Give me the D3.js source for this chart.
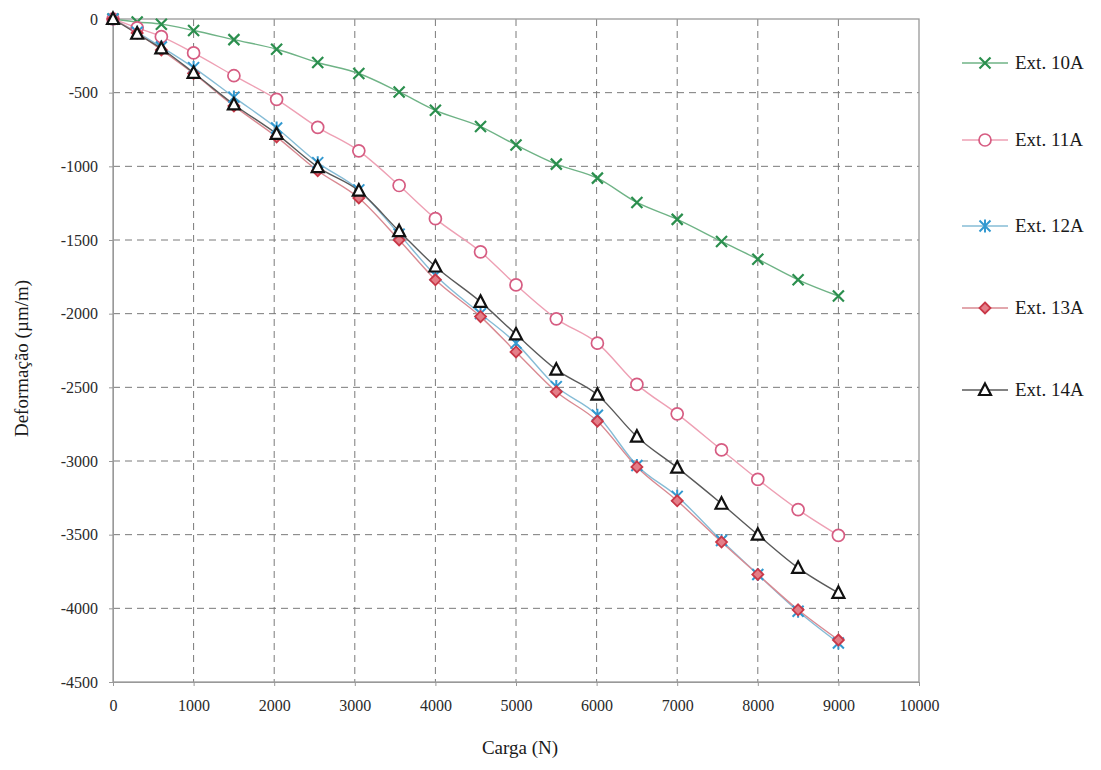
<!DOCTYPE html>
<html>
<head>
<meta charset="utf-8">
<script src="https://cdn.jsdelivr.net/npm/d3@7"></script>
<style>
  body { margin: 0; background: #fff; }
  svg text { font-family: "Liberation Serif", "DejaVu Serif", serif; }
</style>
</head>
<body>
<svg id="chart"></svg>
<script>
// cargas (N)
const cargas = [0, 300, 600, 1000, 1500, 2030, 2540, 3050, 3550, 4000, 4560, 5000, 5500, 6010, 6500, 7000, 7550, 8000, 8500, 9000];

// deformações (µm/m) por extensômetro
const ext10A = [0, -20, -35, -78, -140, -205, -295, -370, -495, -620, -730, -855, -985, -1080, -1245, -1360, -1510, -1630, -1770, -1880];
const ext11A = [0, -60, -120, -230, -385, -545, -735, -895, -1130, -1355, -1580, -1805, -2035, -2200, -2480, -2680, -2925, -3125, -3330, -3505];
const ext12A = [0, -90, -190, -330, -530, -740, -975, -1160, -1460, -1740, -2000, -2200, -2495, -2690, -3030, -3240, -3540, -3770, -4020, -4235];
const ext13A = [0, -95, -210, -370, -590, -800, -1030, -1215, -1500, -1770, -2020, -2260, -2530, -2730, -3040, -3270, -3550, -3770, -4010, -4215];
const ext14A = [0, -100, -200, -365, -580, -780, -1005, -1165, -1440, -1680, -1920, -2140, -2380, -2550, -2835, -3045, -3290, -3500, -3725, -3895];

const nomes = ["Ext. 10A", "Ext. 11A", "Ext. 12A", "Ext. 13A", "Ext. 14A"];
const xTicks = d3.range(0, 10001, 1000);
const yTicks = d3.range(0, -4501, -500);

const series = [
  { nome: nomes[0], valores: ext10A, cor: "#2b8f4e", linha: "#6fb386", marca: "x" },
  { nome: nomes[1], valores: ext11A, cor: "#d65c82", linha: "#eea0b4", marca: "circle" },
  { nome: nomes[2], valores: ext12A, cor: "#3399d0", linha: "#86bcd6", marca: "asterisk" },
  { nome: nomes[3], valores: ext13A, cor: "#c93848", linha: "#d98a92", marca: "diamond" },
  { nome: nomes[4], valores: ext14A, cor: "#111111", linha: "#5a5a5a", marca: "triangle" }
];

const width = 1101, height = 770;
const margin = { left: 113, right: 182, top: 19, bottom: 88 };

const svg = d3.select("#chart").attr("width", width).attr("height", height);

const x = d3.scaleLinear().domain([0, 10000]).range([margin.left, width - margin.right]);
const y = d3.scaleLinear().domain([0, -4500]).range([margin.top, height - margin.bottom]);

// grade tracejada
svg.append("g").selectAll("line")
  .data(xTicks.slice(1, -1))
  .enter().append("line")
  .attr("x1", d => x(d)).attr("x2", d => x(d))
  .attr("y1", y(0)).attr("y2", y(-4500))
  .attr("stroke", "#7a7a7a").attr("stroke-dasharray", "7,5").attr("stroke-width", 1);

svg.append("g").selectAll("line")
  .data(yTicks.slice(1, -1))
  .enter().append("line")
  .attr("y1", d => y(d)).attr("y2", d => y(d))
  .attr("x1", x(0)).attr("x2", x(10000))
  .attr("stroke", "#7a7a7a").attr("stroke-dasharray", "7,5").attr("stroke-width", 1);

// moldura
svg.append("rect")
  .attr("x", x(0)).attr("y", y(0))
  .attr("width", x(10000) - x(0)).attr("height", y(-4500) - y(0))
  .attr("fill", "none").attr("stroke", "#999").attr("stroke-width", 1.3);

// eixos
const xAxis = svg.append("g")
  .attr("transform", `translate(0,${y(-4500)})`)
  .call(d3.axisBottom(x).tickValues(xTicks).tickSize(4).tickPadding(14).tickFormat(d3.format("d")));
const yAxis = svg.append("g")
  .attr("transform", `translate(${x(0)},0)`)
  .call(d3.axisLeft(y).tickValues(yTicks).tickSize(4).tickPadding(11).tickFormat(d => d === 0 ? "0" : "-" + Math.abs(d)));

[xAxis, yAxis].forEach(a => {
  a.attr("font-family", null);
  a.select(".domain").attr("stroke", "#999");
  a.selectAll(".tick line").attr("stroke", "#999");
  a.selectAll(".tick text")
    .attr("fill", "#2a2a2a")
    .style("font-size", "16px");
});

// títulos
svg.append("text")
  .attr("x", (x(0) + x(10000)) / 2 + 4).attr("y", 754)
  .attr("text-anchor", "middle")
  .attr("fill", "#1a1a1a")
  .style("font-size", "19px")
  .text("Carga (N)");

svg.append("text")
  .attr("transform", `translate(28,${(y(0) + y(-4500)) / 2 + 8}) rotate(-90)`)
  .attr("text-anchor", "middle")
  .attr("fill", "#1a1a1a")
  .style("font-size", "19px")
  .text("Deformação (µm/m)");

// marcadores
function desenhaMarca(g, tipo, cor) {
  if (tipo === "x") {
    g.append("path").attr("d", "M-5.5,-5.5L5.5,5.5M-5.5,5.5L5.5,-5.5")
      .attr("stroke", cor).attr("stroke-width", 2.2).attr("fill", "none");
  } else if (tipo === "circle") {
    g.append("circle").attr("r", 6)
      .attr("stroke", cor).attr("stroke-width", 1.7).attr("fill", "#fff");
  } else if (tipo === "asterisk") {
    g.append("path").attr("d", "M-5.5,-5.5L5.5,5.5M-5.5,5.5L5.5,-5.5M0,-6.5L0,6.5")
      .attr("stroke", cor).attr("stroke-width", 2).attr("fill", "none");
  } else if (tipo === "diamond") {
    g.append("path").attr("d", "M0,-5.5L5.5,0L0,5.5L-5.5,0Z")
      .attr("stroke", cor).attr("stroke-width", 1.8).attr("fill", "#e47e88");
  } else if (tipo === "triangle") {
    g.append("path").attr("d", "M0,-6.5L6,5L-6,5Z")
      .attr("stroke", cor).attr("stroke-width", 2.2).attr("fill", "#fff");
  }
}

const linha = d3.line()
  .x((d, i) => x(cargas[i]))
  .y(d => y(d))
  .curve(d3.curveMonotoneX);

// linhas
series.forEach(s => {
  svg.append("path")
    .datum(s.valores)
    .attr("d", linha)
    .attr("fill", "none")
    .attr("stroke", s.linha)
    .attr("stroke-width", 1.4);
});

// pontos (desenhados depois das linhas)
series.forEach(s => {
  svg.append("g").selectAll("g")
    .data(s.valores)
    .enter().append("g")
    .attr("transform", (d, i) => `translate(${x(cargas[i])},${y(d)})`)
    .each(function () { desenhaMarca(d3.select(this), s.marca, s.cor); });
});

// legenda
const legY = [63, 140, 226, 308, 390];
const leg = svg.append("g").selectAll("g")
  .data(series)
  .enter().append("g")
  .attr("transform", (d, i) => `translate(962,${legY[i]})`);

leg.append("line")
  .attr("x1", 0).attr("x2", 46)
  .attr("stroke", d => d.linha).attr("stroke-width", 1.4);
leg.each(function (d) { desenhaMarca(d3.select(this).append("g").attr("transform", "translate(23,0)"), d.marca, d.cor); });
leg.append("text")
  .attr("x", 53).attr("y", 6)
  .attr("fill", "#1a1a1a")
  .style("font-size", "19px")
  .text(d => d.nome);
</script>
</body>
</html>
